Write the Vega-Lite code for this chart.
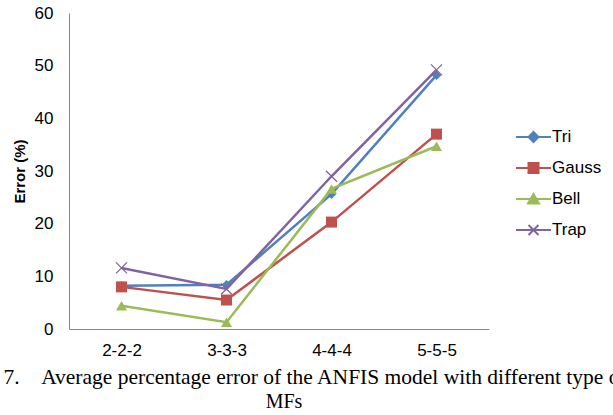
{
  "$schema": "https://vega.github.io/schema/vega-lite/v6.json",
  "width": 420,
  "height": 316,
  "autosize": "none",
  "padding": {"left": 69, "top": 13, "right": 124, "bottom": 86},
  "background": "white",
  "title": {"text": "MFs", "orient": "bottom", "anchor": "middle", "frame": "group", "font": "Liberation Serif", "fontSize": 20, "fontWeight": "normal", "color": "#000000", "offset": 4, "dx": 5},
  "data": {"values": [
    {"config": "2-2-2", "series": "Tri", "error": 8.2},
    {"config": "3-3-3", "series": "Tri", "error": 8.4},
    {"config": "4-4-4", "series": "Tri", "error": 25.6},
    {"config": "5-5-5", "series": "Tri", "error": 48.2},
    {"config": "2-2-2", "series": "Gauss", "error": 8.0},
    {"config": "3-3-3", "series": "Gauss", "error": 5.5},
    {"config": "4-4-4", "series": "Gauss", "error": 20.3},
    {"config": "5-5-5", "series": "Gauss", "error": 37.0},
    {"config": "2-2-2", "series": "Bell", "error": 4.4},
    {"config": "3-3-3", "series": "Bell", "error": 1.3},
    {"config": "4-4-4", "series": "Bell", "error": 26.6},
    {"config": "5-5-5", "series": "Bell", "error": 34.7},
    {"config": "2-2-2", "series": "Trap", "error": 11.6},
    {"config": "3-3-3", "series": "Trap", "error": 7.6},
    {"config": "4-4-4", "series": "Trap", "error": 29.0},
    {"config": "5-5-5", "series": "Trap", "error": 49.2}
  ]},
  "encoding": {
    "x": {"field": "config", "type": "nominal", "scale": {"type": "point", "padding": 0.5, "domain": ["2-2-2", "3-3-3", "4-4-4", "5-5-5"]},
      "axis": {"labelAngle": 0, "labelPadding": 13,
        "title": "7.\u00a0\u00a0\u00a0\u00a0Average percentage error of the ANFIS model with different type of",
        "titleFont": "Liberation Serif", "titleFontSize": 21.5, "titleFontWeight": "normal", "titleColor": "#000000",
        "titleAlign": "left", "titleAnchor": "start", "titleBaseline": "alphabetic", "titleX": -66, "titleY": 54}},
    "y": {"field": "error", "type": "quantitative", "scale": {"domain": [0, 60], "nice": false},
      "axis": {"values": [0, 10, 20, 30, 40, 50, 60], "title": "Error (%)", "titleFont": "Liberation Sans", "titleFontSize": 15, "titleFontWeight": "bold", "titleColor": "#000000", "titlePadding": 7, "labelPadding": 16}}
  },
  "layer": [
    {
      "mark": {"type": "point", "filled": true, "opacity": 0},
      "encoding": {
        "color": {"field": "series", "type": "nominal", "title": null,
          "scale": {"domain": ["Tri", "Gauss", "Bell", "Trap"], "range": ["#4F81BD", "#C0504D", "#9BBB59", "#8064A2"]}},
        "stroke": {"field": "series", "type": "nominal", "title": null,
          "scale": {"domain": ["Tri", "Gauss", "Bell", "Trap"], "range": ["#4F81BD", "#C0504D", "#9BBB59", "#8064A2"]}},
        "shape": {"field": "series", "type": "nominal", "title": null,
          "scale": {"domain": ["Tri", "Gauss", "Bell", "Trap"], "range": [
            "M-1.75,0L1.75,0M0,-0.5L0.5,0L0,0.5L-0.5,0Z",
            "M-1.75,0L1.75,0M-0.5,-0.5L0.5,-0.5L0.5,0.5L-0.5,0.5Z",
            "M-1.75,0L1.75,0M0,-0.5L0.55,0.45L-0.55,0.45Z",
            "M-1.75,0L1.75,0M-0.5,-0.5L0.5,0.5M-0.5,0.5L0.5,-0.5"
          ]}}
      }
    },
    {
      "transform": [{"filter": "datum.series === 'Tri'"}],
      "mark": {"type": "line", "color": "#4F81BD", "strokeWidth": 2.5, "point": {"shape": "diamond", "filled": true, "size": 90, "color": "#4F81BD"}}
    },
    {
      "transform": [{"filter": "datum.series === 'Gauss'"}],
      "mark": {"type": "line", "color": "#C0504D", "strokeWidth": 2.5, "point": {"shape": "square", "filled": true, "size": 121, "color": "#C0504D"}}
    },
    {
      "transform": [{"filter": "datum.series === 'Bell'"}],
      "mark": {"type": "line", "color": "#9BBB59", "strokeWidth": 2.5, "point": {"shape": "triangle-up", "filled": true, "size": 121, "color": "#9BBB59"}}
    },
    {
      "transform": [{"filter": "datum.series === 'Trap'"}],
      "mark": {"type": "line", "color": "#8064A2", "strokeWidth": 2.5, "point": {"shape": "M-1,-1L1,1M-1,1L1,-1", "filled": false, "size": 121, "strokeWidth": 1.3, "color": "#8064A2"}}
    }
  ],
  "config": {
    "view": {"stroke": null},
    "axis": {"domainColor": "#868686", "domainWidth": 1, "ticks": false, "grid": false, "labelFont": "Liberation Sans", "labelFontSize": 17, "labelColor": "#000000"},
    "legend": {"orient": "none", "legendX": 453.5, "legendY": 113, "padding": 0, "symbolSize": 400, "symbolStrokeWidth": 2, "symbolOpacity": 1, "labelOffset": 7.5, "rowPadding": 11, "labelFont": "Liberation Sans", "labelFontSize": 17, "labelColor": "#000000"}
  }
}
